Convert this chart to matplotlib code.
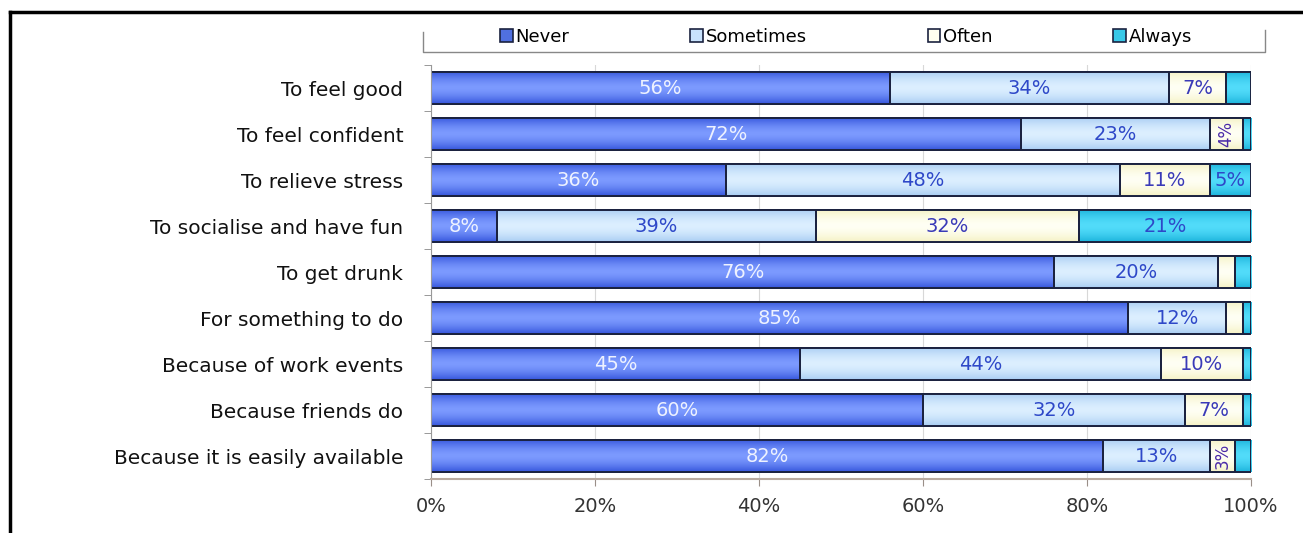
import matplotlib.pyplot as plt
import numpy as np
from matplotlib.colors import LinearSegmentedColormap
from matplotlib.patches import Rectangle
from matplotlib.lines import Line2D

plt.rcParams['font.family'] = ['DejaVu Sans']

reasons = ['To feel good', 'To feel confident', 'To relieve stress',
           'To socialise and have fun', 'To get drunk', 'For something to do',
           'Because of work events', 'Because friends do',
           'Because it is easily available']
series = ['Never', 'Sometimes', 'Often', 'Always']
never = [56, 72, 36, 8, 76, 85, 45, 60, 82]
sometimes = [34, 23, 48, 39, 20, 12, 44, 32, 13]
often = [7, 4, 11, 32, 2, 2, 10, 7, 3]
always = [3, 1, 5, 21, 2, 1, 1, 1, 2]
xticks = [0, 20, 40, 60, 80, 100]

# (edge shade, centre shade) for each series' gradient fill
shades = [('#3656dc', '#7c9aff'),
          ('#a9cdf3', '#dcefff'),
          ('#f5f2c4', '#fffff4'),
          ('#1cb4dc', '#52dcfa')]
label_colors = ['#eef2ff', '#2e48c8', '#3a3ab8', '#2e48c8']
legend_face = ['#5070e0', '#c8e2fc', '#fffff0', '#38c8e8']
min_label = [3, 3, 3, 5]

data = np.array([never, sometimes, often, always], dtype=float)

W, H = 1303, 533
fig = plt.figure(figsize=(W / 100, H / 100), dpi=100)
ax = fig.add_axes([431 / W, 1 - 479 / H, 820 / W, (479 - 65) / H])

n = len(reasons)
y = np.arange(n)
h = 0.7
ax.set_xlim(0, 100)
ax.set_ylim(n - 0.5, -0.5)

ramp = np.abs(np.linspace(-1, 1, 64)) ** 1.6
left = np.zeros(n)
for k in range(4):
    cmap = LinearSegmentedColormap.from_list('s%d' % k, [shades[k][1], shades[k][0]])
    bars = ax.barh(y, data[k], left=left, height=h, color=shades[k][1],
                   edgecolor='#1b2240', linewidth=1.4, zorder=2)
    for bar in bars:
        x0, y0 = bar.get_x(), bar.get_y()
        im = ax.imshow(ramp[:, None], cmap=cmap, aspect='auto', interpolation='bilinear',
                       extent=(x0, x0 + bar.get_width(), y0 + bar.get_height(), y0),
                       zorder=2.1)
        im.set_clip_path(bar)
        edge = Rectangle((x0, y0), bar.get_width(), bar.get_height(), fill=False,
                         edgecolor='#1b2240', linewidth=1.4, zorder=2.2)
        ax.add_patch(edge)
    for i, v in enumerate(data[k]):
        if v < min_label[k]:
            continue
        cx = left[i] + v / 2
        if v <= 4:
            ax.text(cx, y[i], '%d%%' % v, rotation=90, ha='center', va='center',
                    fontsize=12, color='#4a2aa8', zorder=3)
        else:
            ax.text(cx, y[i], '%d%%' % v, ha='center', va='center',
                    fontsize=14, color=label_colors[k], zorder=3)
    left += data[k]

ax.set_xticks(xticks)
ax.set_xticklabels(['%d%%' % t for t in xticks], fontsize=14, color='#333333')
ax.set_yticks(y)
ax.set_yticklabels(reasons, fontsize=14.5, color='#111111')
ax.set_yticks(np.arange(n + 1) - 0.5, minor=True)
ax.tick_params(axis='y', which='major', length=0, pad=20)
ax.tick_params(axis='y', which='minor', length=5, color='#888888')
ax.tick_params(axis='x', length=5, color='#9a8f88', pad=8)
ax.grid(axis='x', color='#d8d8d8', linewidth=0.8, zorder=0)
for s in ['top', 'right']:
    ax.spines[s].set_visible(False)
ax.spines['left'].set_color('#999999')
ax.spines['bottom'].set_color('#b8aaa0')
ax.spines['bottom'].set_linewidth(1.5)

handles = [Rectangle((0, 0), 1, 1, facecolor=legend_face[k], edgecolor='#1b2240',
                     linewidth=1.2) for k in range(4)]
fig.legend(handles, series, loc='center', ncol=4, frameon=False,
           bbox_to_anchor=(846 / W, 1 - 37 / H), fontsize=13,
           handlelength=0.7, handleheight=0.7, handletextpad=0.15,
           columnspacing=6.7, borderaxespad=0)

# open box under the legend
lg = dict(color='#888888', linewidth=1.0, transform=fig.transFigure)
fig.add_artist(Line2D([423 / W, 423 / W, 1265 / W, 1265 / W],
                      [1 - 32 / H, 1 - 52 / H, 1 - 52 / H, 1 - 30 / H], **lg))

# outer frame
fr = dict(color='black', linewidth=2.5, transform=fig.transFigure)
fig.add_artist(Line2D([10 / W, 1], [1 - 12 / H] * 2, **fr))
fig.add_artist(Line2D([10 / W] * 2, [0, 1 - 12 / H], **fr))

fig.savefig('out.png', dpi=100, facecolor='white')
